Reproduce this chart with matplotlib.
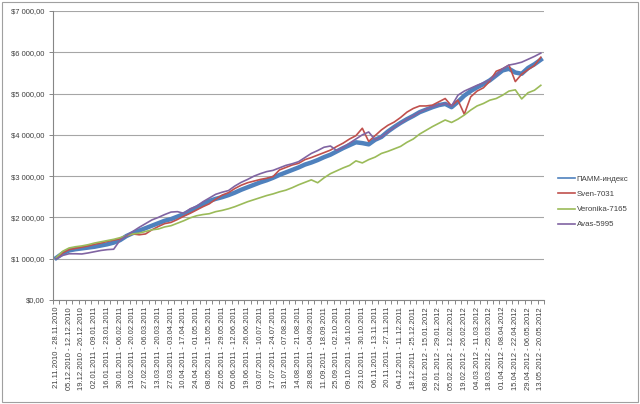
import pandas as pd
from matplotlib import pyplot as plt
from matplotlib.patches import Rectangle

# weekly periods, 21.11.2010 .. 13.05.2012 (week of 01.01.2012 is absent in the source)
week_starts = [d for d in pd.date_range('2010-11-21', '2012-05-13', freq='7D')
               if d != pd.Timestamp('2012-01-01')]
weeks = [f"{d:%d.%m.%Y} - {d + pd.Timedelta(days=7):%d.%m.%Y}" for d in week_starts]

pamm = [1020, 1130, 1200, 1230, 1250, 1270, 1290, 1320, 1350, 1390,
        1450, 1550, 1620, 1680, 1740, 1800, 1860, 1920, 1960, 2020,
        2080, 2160, 2240, 2320, 2400, 2450, 2490, 2540, 2600, 2670,
        2730, 2790, 2850, 2900, 2960, 3030, 3090, 3150, 3210, 3280,
        3330, 3390, 3460, 3520, 3600, 3680, 3750, 3820, 3800, 3770,
        3880, 3950, 4080, 4190, 4290, 4380, 4460, 4550, 4610, 4670,
        4720, 4750, 4670, 4800, 4950, 5060, 5150, 5230, 5320, 5440,
        5560, 5600, 5510, 5480, 5620, 5710, 5820]

sven = [1010, 1140, 1220, 1250, 1280, 1310, 1350, 1380, 1420, 1450,
        1480, 1550, 1600, 1580, 1600, 1700, 1780, 1850, 1880, 1950,
        2030, 2100, 2180, 2260, 2330, 2440, 2540, 2600, 2700, 2780,
        2840, 2880, 2920, 2950, 2990, 3150, 3210, 3270, 3310, 3400,
        3450, 3510, 3570, 3630, 3720, 3800, 3900, 3980, 4160, 3840,
        3980, 4120, 4230, 4310, 4420, 4550, 4640, 4700, 4700, 4720,
        4800, 4880, 4700, 4840, 4500, 4920, 5060, 5140, 5300, 5540,
        5600, 5690, 5290, 5470, 5580, 5680, 5880]

veronika = [1030, 1180, 1260, 1290, 1310, 1340, 1380, 1410, 1440, 1470,
            1510, 1560, 1600, 1620, 1660, 1700, 1720, 1770, 1800, 1860,
            1920, 1990, 2040, 2070, 2090, 2140, 2170, 2210, 2260, 2320,
            2380, 2430, 2480, 2530, 2570, 2620, 2660, 2720, 2790, 2850,
            2910, 2840, 2960, 3060, 3130, 3200, 3260, 3370, 3320, 3400,
            3460, 3550, 3600, 3660, 3720, 3820, 3900, 4020, 4110, 4200,
            4280, 4360, 4300, 4380, 4480, 4600, 4700, 4760, 4840, 4880,
            4960, 5060, 5090, 4870, 5020, 5080, 5200]

avas = [1000, 1080, 1120, 1120, 1115, 1140, 1170, 1200, 1220, 1230,
        1450, 1560, 1660, 1760, 1850, 1940, 2000, 2070, 2130, 2140,
        2100, 2210, 2270, 2380, 2470, 2560, 2610, 2650, 2760, 2850,
        2920, 3000, 3060, 3110, 3140, 3200, 3260, 3300, 3350, 3450,
        3550, 3620, 3700, 3730, 3620, 3700, 3800, 3900, 4000, 4070,
        3880, 3950, 4070, 4180, 4280, 4380, 4460, 4550, 4620, 4680,
        4720, 4760, 4700, 4960, 5060, 5130, 5200, 5260, 5330, 5450,
        5600, 5690, 5720, 5760, 5830, 5900, 5980]

font = 'Liberation Sans'
grey = '#868686'

fig = plt.figure(figsize=(6.4, 4.04), dpi=100)
ax = fig.add_axes([0.083, 0.2574, 0.767, 0.7154])

x = range(len(weeks))
ax.plot(x, pamm, color='#4F81BD', lw=3.2, label='ПАММ-индекс', solid_joinstyle='round')
ax.plot(x, sven, color='#C0504D', lw=1.2, label='Sven-7031')
ax.plot(x, veronika, color='#9BBB59', lw=1.2, label='Veronika-7165')
ax.plot(x, avas, color='#8064A2', lw=1.2, label='Avas-5995')

ax.set_xlim(-0.5, len(weeks) - 0.5)
ax.set_ylim(0, 7000)

yt = list(range(0, 7001, 1000))
ax.set_yticks(yt)
ax.set_yticklabels(['$' + f'{v:,}'.replace(',', ' ') + ',00' for v in yt],
                   fontsize=5.5, family=font, color='#404040')
ax.yaxis.grid(True, color='#A6A6A6', lw=0.8)
ax.set_axisbelow(True)

ax.set_xticks(list(x)[::2])
ax.set_xticklabels(weeks[::2], rotation=90, fontsize=5.5, family=font, color='#404040')
ax.set_xticks([i - 0.5 for i in range(len(weeks) + 1)], minor=True)
ax.tick_params(axis='x', which='major', length=0, pad=5)
ax.tick_params(axis='x', which='minor', length=3, color=grey, width=0.7)
ax.tick_params(axis='y', length=3, color=grey, width=0.7, pad=3)

for side in ['top', 'right']:
    ax.spines[side].set_visible(False)
for side in ['left', 'bottom']:
    ax.spines[side].set_color(grey)
    ax.spines[side].set_linewidth(0.8)

leg = fig.legend(loc='center left', bbox_to_anchor=(0.866, 0.50), frameon=False,
                 prop={'family': font, 'size': 5.7}, handlelength=2.1,
                 handletextpad=0.25, labelspacing=0.95, borderpad=0)
for h in leg.legend_handles:
    h.set_linewidth(1.2)
for t in leg.get_texts():
    t.set_color('#404040')

fig.patches.append(Rectangle((0.003, 0.006), 0.994, 0.988, transform=fig.transFigure,
                             fill=False, edgecolor='#A0A0A0', lw=0.8))

fig.savefig('out.png', dpi=100)
